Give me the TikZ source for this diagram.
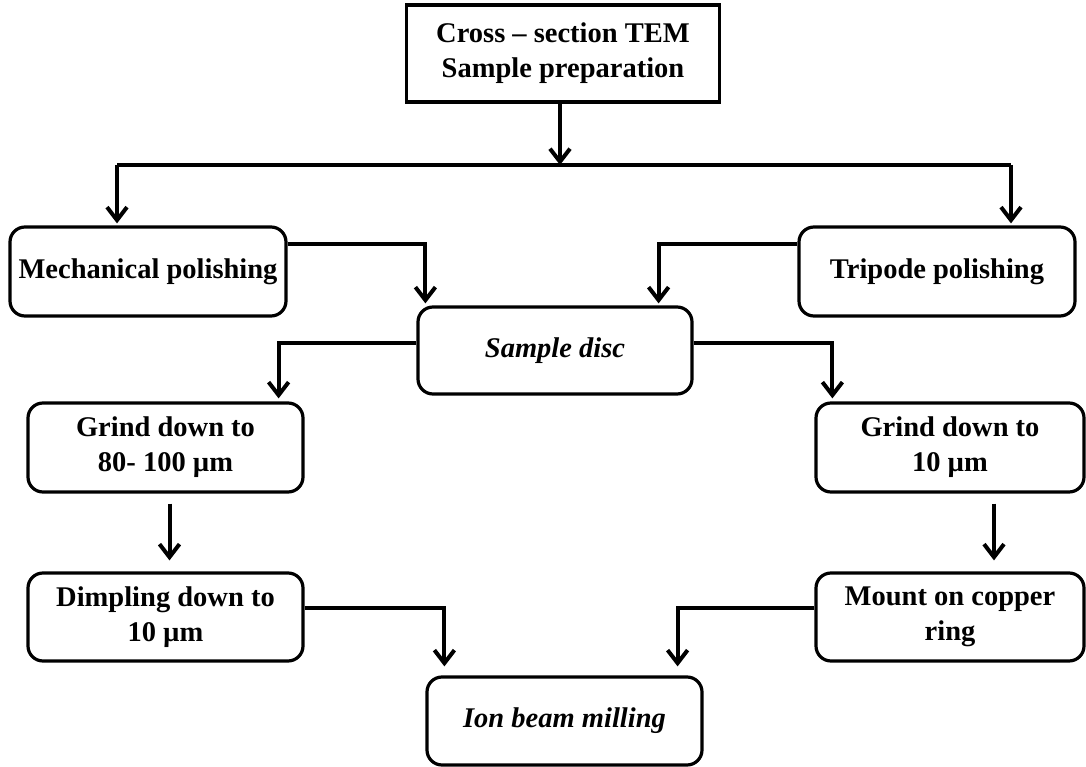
\documentclass[tikz,border=0pt]{standalone}
\usepackage{fontspec}
\setmainfont{Liberation Serif}
\usetikzlibrary{arrows.meta}
\begin{document}
\begin{tikzpicture}[x=1pt,y=-1pt,
  box/.style={draw=black, line width=3.2pt, fill=white, rounded corners=15pt, align=center,
    font=\fontsize{28.5}{35}\selectfont\bfseries, inner sep=0pt},
  sharpbox/.style={box, rounded corners=0pt},
  conn/.style={line width=4pt, draw=black},
  arr/.style={conn, -{Straight Barb[length=13pt,width=20pt,line width=4pt]}}
]
\useasboundingbox (0,0) rectangle (1086,767);
\node[sharpbox, minimum width=313pt, minimum height=97pt] (top) at (563,53.5) {Cross -- section TEM\\Sample preparation};
\node[box, minimum width=276pt, minimum height=89pt] (mech) at (148,271.5) {Mechanical polishing};
\node[box, minimum width=276pt, minimum height=89pt] (trip) at (937,271.5) {Tripode polishing};
\node[box, minimum width=274pt, minimum height=87pt] (disc) at (555,350.5) {\itshape Sample disc};
\node[box, minimum width=275pt, minimum height=89pt] (grindL) at (165.5,447.5) {Grind down to\\80- 100 µm};
\node[box, minimum width=268pt, minimum height=89pt] (grindR) at (950,447.5) {Grind down to\\10 µm};
\node[box, minimum width=275pt, minimum height=88pt] (dimp) at (165.5,617) {Dimpling down to\\10 µm};
\node[box, minimum width=268pt, minimum height=88pt] (mount) at (950,617) {Mount on copper\\ring};
\node[box, minimum width=275pt, minimum height=88pt] (ion) at (564.5,721) {\itshape Ion beam milling};

\coordinate (hl) at (117,165);
\coordinate (hr) at (1011,165);
\coordinate (mechtop) at ([yshift=2pt]mech.north);
\coordinate (triptop) at ([yshift=2pt]trip.north);
\draw[conn] (hl) -- (hr);
\draw[arr] ([xshift=-3pt]top.south) -- ([xshift=-3pt]top.south |- hl);
\draw[arr] (hl) -- (hl |- mechtop);
\draw[arr] (hr) -- (hr |- triptop);

\draw[arr] ([yshift=-19pt]mech.north east) -| ([xshift=9pt,yshift=2pt]disc.north west);
\draw[arr] ([yshift=-19pt]trip.north west) -| ([xshift=-35pt,yshift=2pt]disc.north east);

\draw[arr] ([yshift=8pt]disc.west) -| ([xshift=-26pt,yshift=3pt]grindL.north east);
\draw[arr] ([yshift=8pt]disc.east) -| ([xshift=18pt,yshift=3pt]grindR.north west);

\draw[arr] ([xshift=4pt,yshift=-10pt]grindL.south) -- ([xshift=4pt,yshift=11pt]dimp.north);
\draw[arr] ([xshift=44pt,yshift=-10pt]grindR.south) -- ([xshift=44pt,yshift=11pt]mount.north);

\draw[arr] ([yshift=9pt]dimp.east) -| ([xshift=19pt,yshift=9pt]ion.north west);
\draw[arr] ([yshift=9pt]mount.west) -| ([xshift=-26pt,yshift=9pt]ion.north east);
\end{tikzpicture}
\end{document}
